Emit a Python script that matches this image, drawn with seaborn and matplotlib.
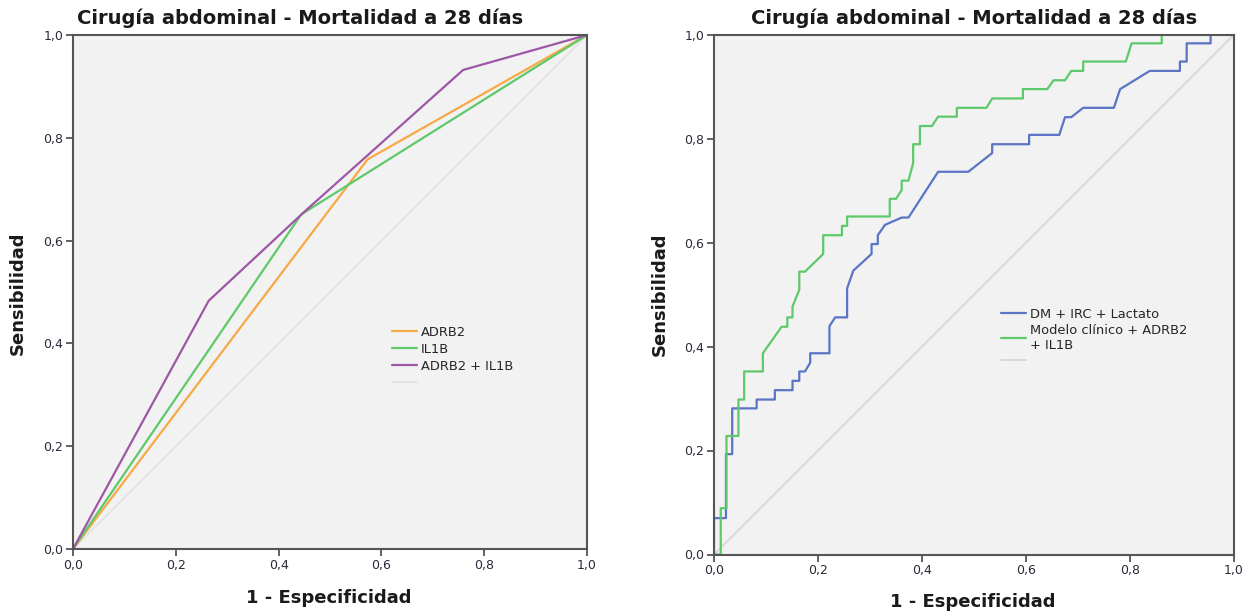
import matplotlib
matplotlib.use("Agg")
import matplotlib.pyplot as plt
import seaborn as sns
import pandas as pd
from matplotlib.ticker import FixedLocator, FixedFormatter

# ---------------- data ----------------
title = "Cirugía abdominal - Mortalidad a 28 días"
xlabel = "1 - Especificidad"
ylabel = "Sensibilidad"
tick_values = [0.0, 0.2, 0.4, 0.6, 0.8, 1.0]
tick_labels = ["0,0", "0,2", "0,4", "0,6", "0,8", "1,0"]

# left panel
adrb2_x = [0.0, 0.573, 1.0]
adrb2_y = [0.0, 0.758, 1.0]
il1b_x = [0.0, 0.444, 1.0]
il1b_y = [0.0, 0.651, 1.0]
comb_x = [0.0, 0.264, 0.450, 0.759, 1.0]
comb_y = [0.0, 0.483, 0.656, 0.932, 1.0]

# right panel
dm_x = [0.0, 0.0, 0.023, 0.023, 0.035, 0.035, 0.082, 0.082, 0.117, 0.117, 0.151, 0.151,
        0.164, 0.164, 0.175, 0.185, 0.185, 0.222, 0.222, 0.233, 0.256, 0.256, 0.268, 0.303,
        0.303, 0.315, 0.315, 0.329, 0.361, 0.374, 0.431, 0.489, 0.535, 0.535, 0.606, 0.606,
        0.664, 0.675, 0.687, 0.710, 0.769, 0.781, 0.838, 0.896, 0.896, 0.909, 0.909, 0.955,
        0.955, 1.0]
dm_y = [0.0, 0.070, 0.070, 0.193, 0.193, 0.281, 0.281, 0.298, 0.298, 0.316, 0.316, 0.334,
        0.334, 0.352, 0.352, 0.369, 0.387, 0.387, 0.439, 0.456, 0.456, 0.512, 0.546, 0.578,
        0.597, 0.597, 0.614, 0.634, 0.648, 0.648, 0.736, 0.736, 0.772, 0.789, 0.789, 0.807,
        0.807, 0.841, 0.841, 0.859, 0.859, 0.895, 0.930, 0.930, 0.948, 0.948, 0.983, 0.983,
        1.0, 1.0]
mod_x = [0.0, 0.013, 0.013, 0.024, 0.024, 0.047, 0.047, 0.058, 0.058, 0.094, 0.094, 0.130,
         0.141, 0.141, 0.151, 0.151, 0.164, 0.164, 0.175, 0.210, 0.210, 0.246, 0.246, 0.256,
         0.256, 0.338, 0.338, 0.350, 0.361, 0.361, 0.374, 0.383, 0.383, 0.396, 0.396, 0.419,
         0.431, 0.467, 0.467, 0.524, 0.535, 0.594, 0.594, 0.641, 0.653, 0.675, 0.687, 0.710,
         0.710, 0.792, 0.803, 0.861, 0.861, 1.0]
mod_y = [0.0, 0.0, 0.089, 0.089, 0.228, 0.228, 0.298, 0.298, 0.352, 0.352, 0.387, 0.438,
         0.438, 0.456, 0.456, 0.477, 0.509, 0.544, 0.544, 0.578, 0.614, 0.614, 0.632, 0.632,
         0.650, 0.650, 0.684, 0.684, 0.701, 0.719, 0.719, 0.753, 0.789, 0.789, 0.824, 0.824,
         0.842, 0.842, 0.859, 0.859, 0.877, 0.877, 0.895, 0.895, 0.912, 0.912, 0.930, 0.930,
         0.948, 0.948, 0.983, 0.983, 1.0, 1.0]
ref_x = [0.0, 1.0]
ref_y = [0.0, 1.0]

left_labels = ["ADRB2", "IL1B", "ADRB2 + IL1B"]
right_labels = ["DM + IRC + Lactato", "Modelo clínico + ADRB2\n+ IL1B"]

# ---------------- style ----------------
C_ORANGE = "#f7a945"
C_GREEN = "#5ec96a"
C_PURPLE = "#9e57a6"
C_BLUE = "#5b74c4"
C_REF = "#d9d9d9"
SPINE = "#555555"
TXT = "#1a1a1a"

sns.set_style("ticks")
plt.rcParams["font.family"] = ["DejaVu Sans"]

W, H = 1252, 613
fig = plt.figure(figsize=(W / 100, H / 100), dpi=100)
fig.patch.set_facecolor("white")

ax1 = fig.add_axes([73 / W, (H - 549) / H, 514 / W, 514 / H])
ax2 = fig.add_axes([714 / W, (H - 554.5) / H, 520 / W, 520 / H])

LW = 1.6


def draw(ax, xs, ys, color, lw=LW):
    df = pd.DataFrame({"x": xs, "y": ys})
    sns.lineplot(data=df, x="x", y="y", ax=ax, color=color, lw=lw,
                 sort=False, estimator=None, legend=False)
    return ax.get_lines()[-1]


def style(ax):
    ax.set_facecolor("#f2f2f2")
    ax.set_xlim(0, 1)
    ax.set_ylim(0, 1)
    for s in ax.spines.values():
        s.set_visible(True)
        s.set_color(SPINE)
        s.set_linewidth(1.5)
    ax.xaxis.set_major_locator(FixedLocator(tick_values))
    ax.yaxis.set_major_locator(FixedLocator(tick_values))
    ax.xaxis.set_major_formatter(FixedFormatter(tick_labels))
    ax.yaxis.set_major_formatter(FixedFormatter(tick_labels))
    ax.tick_params(axis="both", direction="out", length=5, width=1.3, color=SPINE,
                   labelsize=9, labelcolor="#2a2a3a", pad=2,
                   top=False, right=False)
    ax.set_xlabel("")
    ax.set_ylabel("")


# left panel
h_ref1 = draw(ax1, ref_x, ref_y, "#e4e4e4", lw=1.4)
h_a = draw(ax1, adrb2_x, adrb2_y, C_ORANGE)
h_i = draw(ax1, il1b_x, il1b_y, C_GREEN)
h_c = draw(ax1, comb_x, comb_y, C_PURPLE)
style(ax1)
ax1.legend([h_a, h_i, h_c, h_ref1], left_labels + [""], loc="upper left",
           bbox_to_anchor=(392 / W, 1 - 326 / H), bbox_transform=fig.transFigure,
           frameon=False, fontsize=9.4, handlelength=1.9, handletextpad=0.3,
           labelspacing=0.3, borderaxespad=0, borderpad=0)

# right panel
h_ref2 = draw(ax2, ref_x, ref_y, C_REF, lw=1.4)
h_d = draw(ax2, dm_x, dm_y, C_BLUE)
h_m = draw(ax2, mod_x, mod_y, C_GREEN)
style(ax2)
ax2.legend([h_d, h_m, h_ref2], right_labels + [""], loc="upper left",
           bbox_to_anchor=(1001 / W, 1 - 308 / H), bbox_transform=fig.transFigure,
           frameon=False, fontsize=9.4, handlelength=1.9, handletextpad=0.3,
           labelspacing=0.2, borderaxespad=0, borderpad=0)

# titles and axis labels
fig.text(300 / W, 1 - 18 / H, title, ha="center", va="center", fontsize=14,
         fontweight="bold", color=TXT)
fig.text(974 / W, 1 - 18 / H, title, ha="center", va="center", fontsize=14,
         fontweight="bold", color=TXT)
fig.text(329 / W, 1 - 598 / H, xlabel, ha="center", va="center", fontsize=13,
         fontweight="bold", color=TXT)
fig.text(973 / W, 1 - 602 / H, xlabel, ha="center", va="center", fontsize=13,
         fontweight="bold", color=TXT)
fig.text(18 / W, 1 - 293 / H, ylabel, ha="center", va="center", rotation=90,
         fontsize=13, fontweight="bold", color=TXT)
fig.text(660 / W, 1 - 294 / H, ylabel, ha="center", va="center", rotation=90,
         fontsize=13, fontweight="bold", color=TXT)

fig.savefig("out.png", dpi=100, facecolor="white")
